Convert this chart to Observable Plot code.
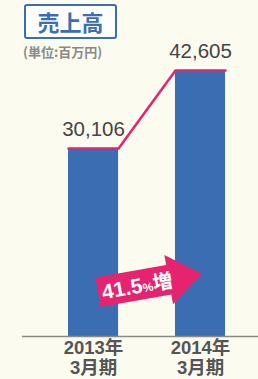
<!DOCTYPE html>
<html>
<head>
<meta charset="utf-8">
<script src="https://cdn.jsdelivr.net/npm/d3@7"></script>
<script src="https://cdn.jsdelivr.net/npm/@observablehq/plot@0.6"></script>
<style>
  html, body { margin: 0; padding: 0; background: #fbfbef; }
  #wrap { position: relative; width: 258px; height: 379px; overflow: hidden;
          font-family: "Liberation Sans", "Noto Sans CJK JP", sans-serif; }
  #wrap svg { position: absolute; left: 0; top: 0; }
  .title { position: absolute; left: 24px; top: 4px; width: 89px; height: 31px;
           border: 2px solid #3b6db3; border-radius: 3px; background: #ffffff;
           color: #3b6db3; font-weight: bold; font-size: 22px; line-height: 31px;
           text-align: center; font-family: "Noto Sans CJK JP", sans-serif; }
  .unit { position: absolute; left: 23px; top: 42px; font-size: 13px; font-weight: bold;
          color: #8a8a8a; font-family: "Noto Sans CJK JP", sans-serif; white-space: nowrap; }
  .arrow { position: absolute; left: 97px; top: 258px; width: 106px; height: 50px;
           transform: rotate(-10deg); background: #e5236f;
           clip-path: polygon(0 10px, 72px 10px, 72px 0, 106px 25px, 72px 50px, 72px 40px, 0 40px); }
  .arrow span.t { position: absolute; left: 4px; top: 10px; height: 30px; line-height: 30px;
                  color: #fff; font-weight: bold; font-size: 21px; white-space: nowrap; }
  .arrow span.p { font-size: 12px; }
  .arrow span.k { font-family: "Noto Sans CJK JP", sans-serif; font-size: 20px; }
</style>
</head>
<body>
<div id="wrap"></div>
<script>
const categories = ["2013年\n3月期", "2014年\n3月期"];
const sales = [30106, 42605];
const valueLabels = ["30,106", "42,605"];
const titleText = "売上高";
const unitText = "(単位:百万円)";
const growthNumber = "41.5";
const growthPercent = "%";
const growthWord = "増";

const halfWidth = 0.234;
const data = categories.map((c, i) => ({i, c, v: sales[i], label: valueLabels[i]}));
const linePts = data.flatMap(d => [{x: d.i - halfWidth, y: d.v}, {x: d.i + halfWidth, y: d.v}]);

const chart = Plot.plot({
  width: 258,
  height: 379,
  marginLeft: 22,
  marginRight: 0,
  marginTop: 70,
  marginBottom: 43,
  x: {domain: [-0.664, 1.542], axis: null},
  y: {domain: [0, d3.max(sales)], axis: null},
  style: {background: "transparent", fontFamily: "'Liberation Sans', 'Noto Sans CJK JP', sans-serif"},
  marks: [
    Plot.rectY(data, {x1: d => d.i - halfWidth, x2: d => d.i + halfWidth, y: "v", fill: "#3b6db3"}),
    Plot.ruleY([0], {stroke: "#8a8a80", strokeWidth: 1.5}),
    Plot.line(linePts, {x: "x", y: "y", stroke: "#e5236f", strokeWidth: 2.5}),
    Plot.text(data, {x: "i", y: "v", text: "label", dy: -19, fontSize: 20.5, fill: "#454545"}),
    Plot.text(data, {x: "i", y: () => 0, text: "c", lineAnchor: "top", dy: 4, fontSize: 18.5,
                     lineHeight: 1.05, fill: "#555555", fontWeight: "bold"})
  ]
});

const wrap = document.getElementById("wrap");
wrap.appendChild(chart);

const t = document.createElement("div");
t.className = "title"; t.textContent = titleText; wrap.appendChild(t);
const u = document.createElement("div");
u.className = "unit"; u.textContent = unitText; wrap.appendChild(u);
const a = document.createElement("div");
a.className = "arrow";
a.innerHTML = `<span class="t">${growthNumber}<span class="p">${growthPercent}</span><span class="k">${growthWord}</span></span>`;
wrap.appendChild(a);
</script>
</body>
</html>
